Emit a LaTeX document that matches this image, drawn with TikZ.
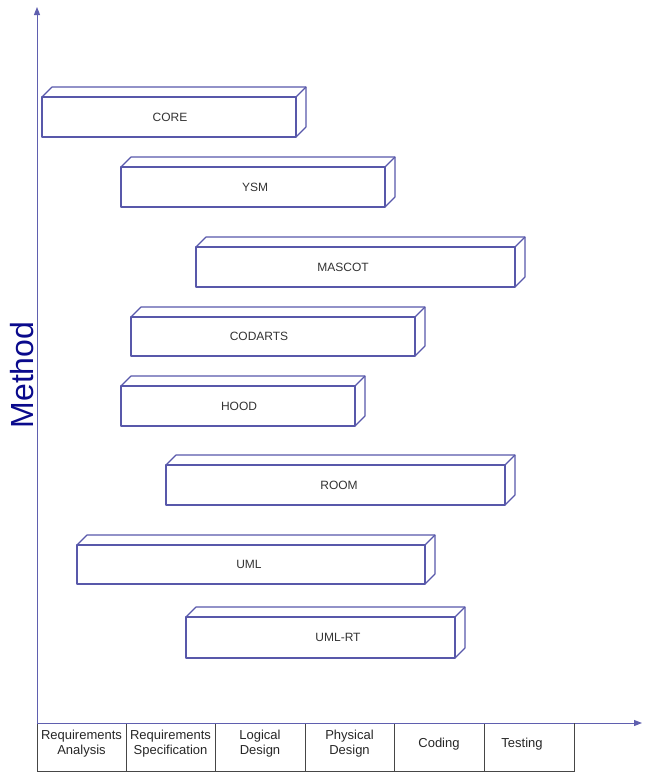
\documentclass[tikz,border=0pt]{standalone}
\usepackage{fontspec}
\setmainfont{Liberation Sans}
\usetikzlibrary{arrows.meta}
\definecolor{barblue}{RGB}{88,88,170}
\definecolor{axisblue}{RGB}{95,95,175}
\definecolor{methodblue}{RGB}{10,10,140}
\definecolor{tablegray}{RGB}{70,70,70}
\tikzset{
  barline/.style={draw=barblue, line width=1.1pt, line join=round},
  bartext/.style={font=\fontsize{12}{14}\selectfont, text=black!80, inner sep=0pt},
  axisline/.style={draw=axisblue, line width=1pt, -{Triangle[length=8pt,width=6pt]}},
  tableline/.style={draw=tablegray, line width=0.8pt},
  phase/.style={font=\fontsize{13}{15}\selectfont, text=black!85, align=center, inner sep=0pt},
}
\newcommand{\mbar}[7]{%
  \draw[barline] (#2,#3) rectangle (#4,#5);
  \draw[barline] (#2,#3) -- ++(10,-10) -- ({#4+10},{#3-10}) -- ({#4+10},{#5-10}) -- (#4,#5);
  \draw[barline] (#4,#3) -- ++(10,-10);
  \node[bartext] (#1) at (#6,{(#3+#5)/2}) {#7};
}
\begin{document}
\begin{tikzpicture}[x=1pt,y=-1pt]
\useasboundingbox (0,0) rectangle (645,774);
% axes
\coordinate (origin) at (37,723);
\coordinate (ytip) at (37,7);
\coordinate (xtip) at (642,723);
\draw[axisline] (origin) -- (ytip);
\draw[axisline] (origin) -- (xtip);
\node[rotate=90, text=methodblue, font=\fontsize{32}{36}\selectfont, inner sep=0pt] (method) at (22,375) {Method};
% bars
\mbar{core}{42}{97}{296}{137}{170}{CORE}
\mbar{ysm}{121}{167}{385}{207}{255}{YSM}
\mbar{mascot}{196}{247}{515}{287}{343}{MASCOT}
\mbar{codarts}{131}{317}{415}{356}{259}{CODARTS}
\mbar{hood}{121}{386}{355}{426}{239}{HOOD}
\mbar{room}{166}{465}{505}{505}{339}{ROOM}
\mbar{uml}{77}{545}{425}{584}{249}{UML}
\mbar{umlrt}{186}{617}{455}{658}{338}{UML-RT}
% table
\draw[tableline] (37,723) rectangle (574,771);
\foreach \x in {126,215,305,394,484} \draw[tableline] (\x,723) -- (\x,771);
\draw[axisline,-] (37,723) -- (574,723);
\node[phase] (p1) at (81.5,744) {Requirements\\Analysis};
\node[phase] (p2) at (170.5,744) {Requirements\\Specification};
\node[phase] (p3) at (260,744) {Logical\\Design};
\node[phase] (p4) at (349.5,744) {Physical\\Design};
\node[phase] (p5) at (439,744) {Coding};
\node[phase] (p6) at (522,744) {Testing};
\end{tikzpicture}
\end{document}
